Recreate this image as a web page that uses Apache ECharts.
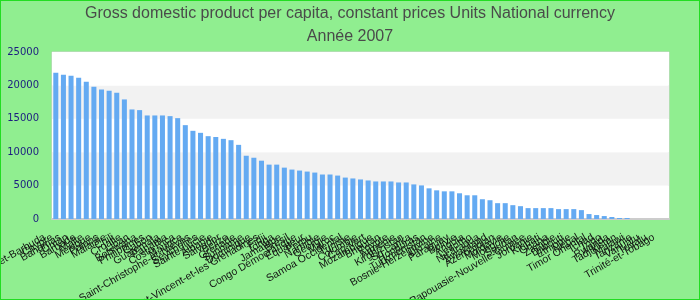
<!DOCTYPE html>
<html>
<head>
<meta charset="utf-8">
<script src="https://cdn.jsdelivr.net/npm/echarts@6/dist/echarts.min.js"></script>
<style>
html,body{margin:0;padding:0;background:#90ee90;}
#chart{width:700px;height:300px;box-sizing:border-box;border:1px solid #22dd22;}
</style>
</head>
<body>
<div id="chart"></div>
<script>
const titleLine1 = "Gross domestic product per capita, constant prices Units National currency";
const titleLine2 = "Année 2007";

const categories = [
  "Antigua-et-Barbuda","Chypre","Bahamas","Oman","Barbade","Malte","Mexique","Palaos","Malaisie","Chili",
  "Croatie","Liban","Botswana","Philippines","Gabon","Guatemala","Panama","Costa Rica","Maurice","Saint-Christophe-et-Niévès",
  "Seychelles","Sainte-Lucie","Albanie","Salvador","Belize","Grenade","Suriname","Dominique","Saint-Vincent-et-les Grenadines","Fidji",
  "Tonga","Jamaïque","Brésil","Congo Démocratique","Équateur","Pérou","Namibie","Géorgie","Maroc","Samoa Occidental",
  "Tunisie","Colombie","Cap-Vert","Mozambique","Bhoutan","Égypte","Arménie","Kirghizistan","Sri Lanka","Honduras",
  "Turkménistan","Bosnie-Herzégovine","Ukraine","Paraguay","Bolivie","Angola","Lesotho","Nicaragua","Swaziland","Azerbaïdjan",
  "Moldavie","Mongolie","Soudan","Papouasie-Nouvelle-Guinée","Jordanie","Kiribati","Ghana","Zambie","Djibouti","Éthiopie",
  "Népal","Timor Oriental","Tchad","Togo","Rwanda","Tadjikistan","Malawi","Tanzanie","Vanuatu","Tuvalu",
  "Trinité-et-Tobago"
];

const gdpValues = [
  21900, 21600, 21450, 21150, 20560, 19800, 19400, 19200, 18900, 17900,
  16400, 16300, 15500, 15500, 15500, 15400, 15100, 14050, 13200, 12900,
  12400, 12280, 12000, 11800, 11100, 9470, 9170, 8730, 8140, 8140,
  7690, 7400, 7250, 7100, 6950, 6660, 6660, 6500, 6200, 6070,
  5920, 5770, 5620, 5620, 5620, 5470, 5470, 5180, 5030, 4590,
  4290, 4140, 4140, 3850, 3550, 3550, 2960, 2810, 2370, 2370,
  2070, 1920, 1630, 1630, 1630, 1630, 1480, 1480, 1480, 1330,
  740, 590, 440, 300, 150, 150, null, null, null, null,
  null
];

const yMin = 0, yMax = 25000, yStep = 5000;

const chart = echarts.init(document.getElementById('chart'), null, {renderer: 'canvas'});
chart.setOption({
  backgroundColor: '#90ee90',
  animation: false,
  title: {
    text: titleLine1 + "\n" + titleLine2,
    left: 'center',
    top: 1,
    padding: 0,
    textStyle: {
      fontFamily: 'Liberation Sans, Arial, sans-serif',
      fontSize: 16,
      fontWeight: 'normal',
      color: '#4a4a4a',
      lineHeight: 23
    }
  },
  grid: {
    left: 51, right: 30, top: 51, bottom: 80,
    containLabel: false,
    outerBoundsMode: 'none',
    show: true,
    backgroundColor: '#ffffff',
    borderColor: '#d0d0d0',
    borderWidth: 1
  },
  xAxis: {
    type: 'category',
    data: categories,
    axisLine: {show: true, lineStyle: {color: '#cccccc', width: 2}},
    axisTick: {show: false},
    axisLabel: {
      interval: 0,
      rotate: 30,
      margin: 11,
      padding: [0, 13, 0, 0],
      color: '#111111',
      fontFamily: 'Liberation Sans, Arial, sans-serif',
      fontSize: 10.5,
      hideOverlap: false
    },
    splitLine: {show: false}
  },
  yAxis: {
    type: 'value',
    min: yMin, max: yMax, interval: yStep,
    axisLine: {show: false},
    axisTick: {show: false},
    axisLabel: {
      margin: 13,
      color: '#1c1c80',
      fontFamily: 'DejaVu Sans, sans-serif',
      fontSize: 10,
      formatter: function (v) { return String(v); }
    },
    splitLine: {show: false},
    splitArea: {show: true, areaStyle: {color: ['#ffffff', '#f2f2f2']}}
  },
  series: [{
    type: 'bar',
    data: gdpValues,
    barCategoryGap: '34%',
    itemStyle: {color: '#64aaf2'}
  }]
});
</script>
</body>
</html>
